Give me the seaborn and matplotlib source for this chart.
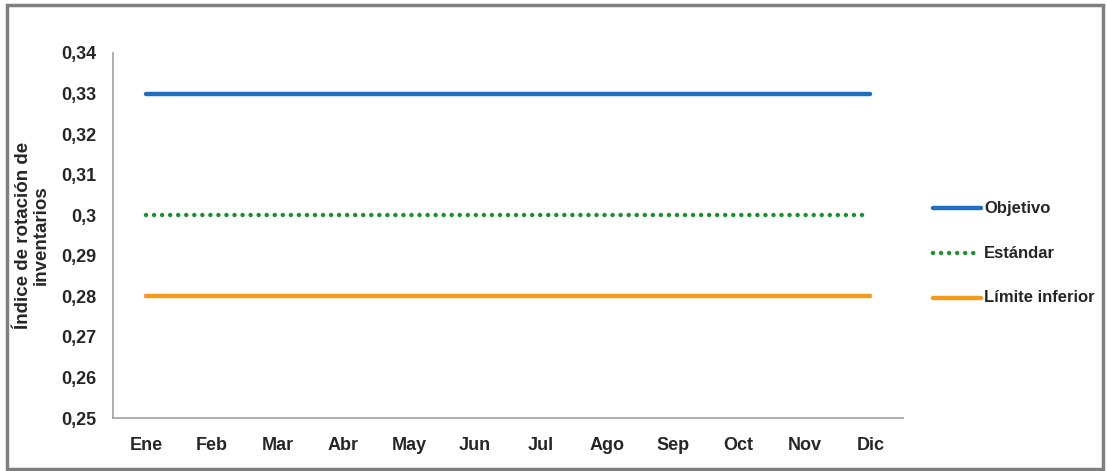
import numpy as np
import pandas as pd
import matplotlib
matplotlib.use('Agg')
import matplotlib.pyplot as plt
import seaborn as sns
from matplotlib.patches import Rectangle

#Data
meses = ['Ene', 'Feb', 'Mar', 'Abr', 'May', 'Jun', 'Jul', 'Ago', 'Sep', 'Oct', 'Nov', 'Dic']
objetivo = [0.33, 0.33, 0.33, 0.33, 0.33, 0.33, 0.33, 0.33, 0.33, 0.33, 0.33, 0.33]
estandar = [0.30, 0.30, 0.30, 0.30, 0.30, 0.30, 0.30, 0.30, 0.30, 0.30, 0.30, 0.30]
limite_inf = [0.28, 0.28, 0.28, 0.28, 0.28, 0.28, 0.28, 0.28, 0.28, 0.28, 0.28, 0.28]
y_ticks = [0.25, 0.26, 0.27, 0.28, 0.29, 0.30, 0.31, 0.32, 0.33, 0.34]
y_labels = ['0,25', '0,26', '0,27', '0,28', '0,29', '0,3', '0,31', '0,32', '0,33', '0,34']

df = pd.DataFrame({
    'mes': meses * 3,
    'x': list(range(len(meses))) * 3,
    'valor': objetivo + estandar + limite_inf,
    'serie': ['Objetivo'] * 12 + ['Estándar'] * 12 + ['Límite inferior'] * 12,
})

sns.set_style('white')
plt.rcParams['font.family'] = ['Liberation Sans', 'DejaVu Sans']
plt.rcParams['font.weight'] = 'bold'

colores = {'Objetivo': '#1f6fc0', 'Estándar': '#16922b', 'Límite inferior': '#f59a1b'}
punteado = (0, (0.01, 1.8))

fig = plt.figure(figsize=(11.07, 4.71), dpi=100)
ax = fig.add_axes([0.102, 0.1125, 0.714, 0.775])

sns.lineplot(data=df, x='x', y='valor', hue='serie', palette=colores, ax=ax,
             linewidth=3.2, legend=False)
# dotted style for the standard line
ax.lines[1].set_linestyle(punteado)
ax.lines[1].set_dash_capstyle('round')

ax.set_xlim(-0.5, 11.5)
ax.set_ylim(0.25, 0.34)
ax.set_yticks(y_ticks)
ax.set_yticklabels(y_labels, fontsize=13, fontweight='bold')
ax.set_xticks(range(len(meses)))
ax.set_xticklabels(meses, fontsize=13, fontweight='bold')
ax.set_xticks(np.arange(-0.5, 12, 1), minor=True)
ax.tick_params(axis='x', which='major', length=0, pad=14)
ax.tick_params(axis='x', which='minor', length=6, color='#a0a0a0', width=1.2)
ax.tick_params(axis='y', length=6, color='#a0a0a0', width=1.2, pad=6)
ax.set_xlabel('')
ax.set_ylabel('Índice de rotación de\ninventarios', fontsize=13.5, fontweight='bold',
              labelpad=8, linespacing=1.1)

for s in ['top', 'right']:
    ax.spines[s].set_visible(False)
for s in ['left', 'bottom']:
    ax.spines[s].set_color('#a0a0a0')
    ax.spines[s].set_linewidth(1.2)

# legend drawn by hand in figure coords
leg_y = [208, 253, 298]
for (nombre, yy) in zip(['Objetivo', 'Estándar', 'Límite inferior'], leg_y):
    yf = 1 - yy / 471
    ls = punteado if nombre == 'Estándar' else '-'
    fig.add_artist(plt.Line2D([933 / 1107, 981 / 1107], [yf, yf], color=colores[nombre],
                              linewidth=3.2, linestyle=ls, dash_capstyle='round'))
    fig.text(984 / 1107, yf, nombre, fontsize=12, fontweight='bold', va='center', ha='left')

fig.add_artist(Rectangle((7 / 1107, 1 - 469 / 471), 1096 / 1107, 464 / 471,
                         transform=fig.transFigure, fill=False, edgecolor='#7f7f7f', linewidth=2.5))

fig.savefig('out.png', dpi=100)
